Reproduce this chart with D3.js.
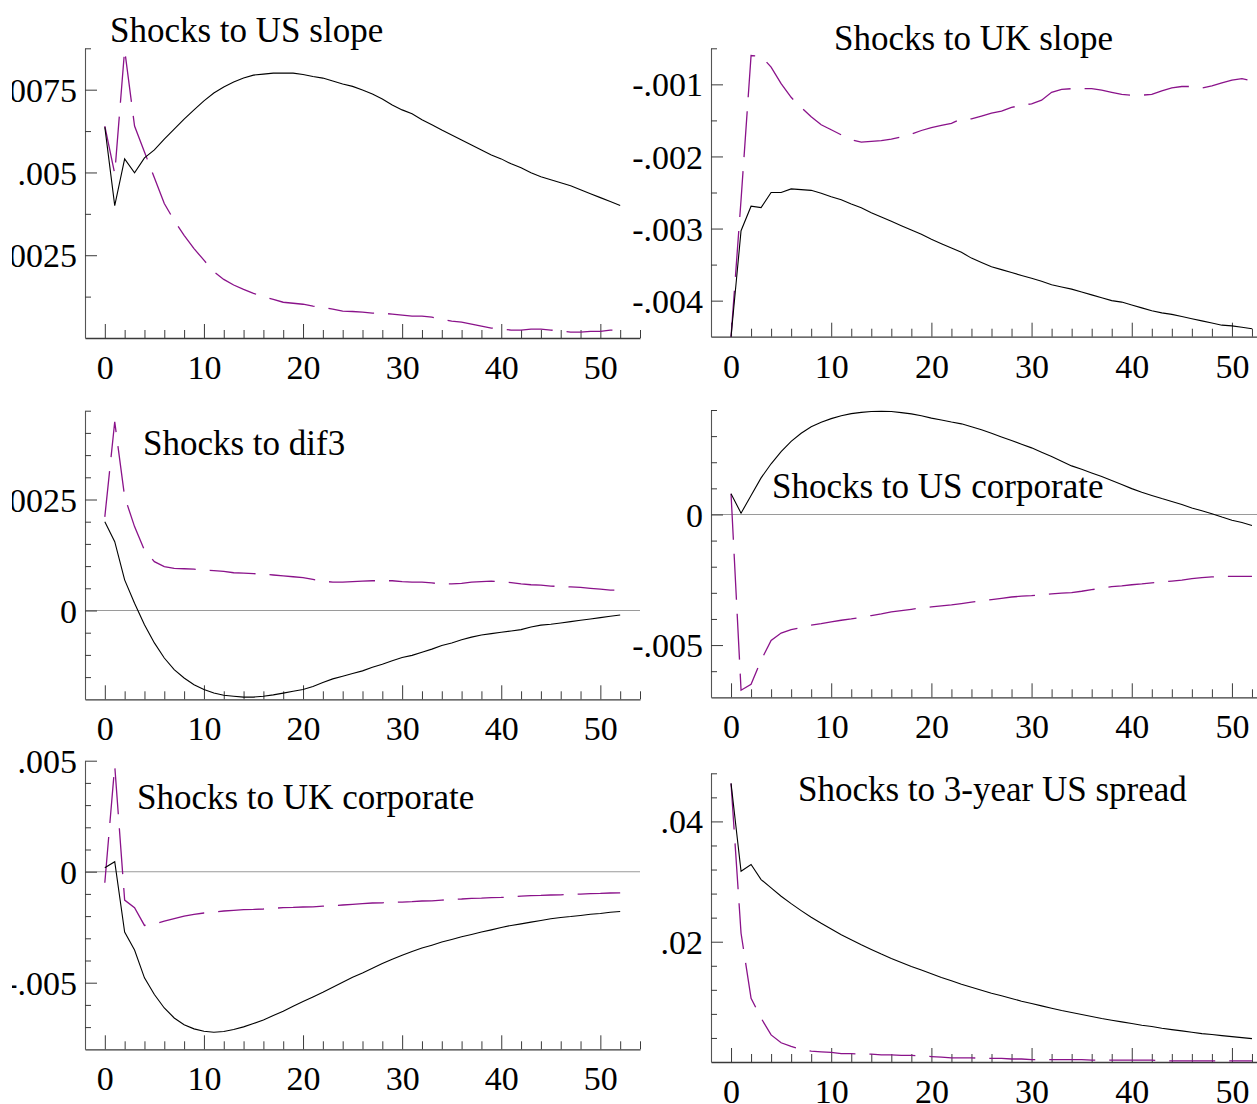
<!DOCTYPE html>
<html><head><meta charset="utf-8">
<script src="https://cdn.jsdelivr.net/npm/d3@7"></script>
<style>
body{margin:0;background:#fff}
svg{display:block;background:#fff}
text{font-family:"Liberation Serif","Times New Roman",serif}
</style>
</head><body>
<svg id="chart" width="1257" height="1104"></svg>
<script>
// ---------- DATA ----------
const horizons = [0,1,2,3,4,5,6,7,8,9,10,11,12,13,14,15,16,17,18,19,20,21,22,23,24,25,26,27,28,29,30,31,32,33,34,35,36,37,38,39,40,41,42,43,44,45,46,47,48,49,50,51,52];
const xTickValues = [0,10,20,30,40,50];
const xTickLabels = ["0","10","20","30","40","50"];

const titles = ["Shocks to US slope","Shocks to UK slope","Shocks to dif3","Shocks to US corporate","Shocks to UK corporate","Shocks to 3-year US spread"];

const usSlopeSolid = [0.00637,0.0040,0.00541,0.00499,0.00544,0.00568,0.00601,0.00631,0.00661,0.00689,
0.00716,0.00740,0.00758,0.00773,0.00785,0.00794,0.00797,0.00800,0.00800,0.00800,
0.00796,0.00790,0.00785,0.00776,0.00767,0.00760,0.00749,0.00737,0.00722,0.00704,
0.00689,0.00677,0.00659,0.00644,0.00628,0.00613,0.00598,0.00583,0.00568,0.00553,
0.00541,0.00526,0.00514,0.00499,0.00487,0.00478,0.00469,0.00460,0.00448,0.00436,
0.00424,0.00412,0.00400];
const usSlopeDashed = [0.0064,0.00496,0.00871,0.0064,0.00562,0.00484,0.00406,0.00355,0.0031,0.0027,
0.00235,0.0020,0.00177,0.0016,0.00147,0.00135,0.00124,0.00117,0.00108,0.00105,
0.00102,0.00096,0.00093,0.00087,0.00081,0.0008,0.00078,0.00075,0.00075,0.00072,
0.00069,0.00066,0.00066,0.00063,0.00057,0.00051,0.00048,0.00042,0.00036,0.0003,
0.00027,0.00024,0.00024,0.00027,0.00027,0.00024,0.00021,0.00018,0.00018,0.0002,
0.0002,0.00024,0.00024];

const ukSlopeSolid = [-0.0045,-0.00303,-0.00269,-0.00271,-0.0025,-0.0025,-0.00245,-0.00246,-0.00247,-0.00251,
-0.00256,-0.0026,-0.00266,-0.00271,-0.00278,-0.00284,-0.0029,-0.00296,-0.00302,-0.00308,
-0.00315,-0.00321,-0.00327,-0.00333,-0.00341,-0.00347,-0.00353,-0.00357,-0.00361,-0.00365,
-0.00369,-0.00373,-0.00378,-0.00381,-0.00384,-0.00388,-0.00392,-0.00396,-0.004,-0.00402,
-0.00406,-0.0041,-0.00414,-0.00417,-0.00419,-0.00422,-0.00425,-0.00428,-0.00431,-0.00434,
-0.00435,-0.00437,-0.00439];
const ukSlopeDashed = [-0.0045,-0.0026,-0.0006,-0.00061,-0.00076,-0.00099,-0.00118,-0.00132,-0.00145,-0.00156,
-0.00163,-0.0017,-0.00177,-0.0018,-0.00179,-0.00178,-0.00176,-0.00173,-0.00169,-0.00164,
-0.0016,-0.00157,-0.00154,-0.00148,-0.00148,-0.00144,-0.0014,-0.00137,-0.00132,-0.00129,
-0.00127,-0.00122,-0.00111,-0.00107,-0.00106,-0.00106,-0.00106,-0.00108,-0.00111,-0.00114,
-0.00115,-0.00115,-0.00114,-0.00109,-0.00105,-0.00103,-0.00103,-0.00105,-0.00102,-0.00098,
-0.00094,-0.00092,-0.00095];

const dif3Solid = [0.002,0.00155,0.00069,0.000165,-0.00032,-0.00073,-0.00107,-0.00133,-0.00152,-0.00167,
-0.00178,-0.00186,-0.00191,-0.00193,-0.00195,-0.00195,-0.00193,-0.0019,-0.00186,-0.00182,
-0.00178,-0.00171,-0.00162,-0.00154,-0.00148,-0.00142,-0.00136,-0.00128,-0.00121,-0.00113,
-0.00106,-0.00101,-0.00094,-0.00087,-0.00079,-0.00073,-0.00066,-0.0006,-0.00055,-0.00052,
-0.00049,-0.00046,-0.00043,-0.00037,-0.00033,-0.00031,-0.00028,-0.00025,-0.00022,-0.00019,
-0.00016,-0.00013,-0.0001];
const dif3Dashed = [0.00211,0.00425,0.00256,0.00189,0.00136,0.0011,0.00099,0.00095,0.00094,0.00093,
0.00091,0.0009,0.00088,0.00085,0.00084,0.00083,0.00082,0.0008,0.00078,0.00076,
0.00074,0.0007,0.00066,0.00064,0.00064,0.00065,0.00066,0.00067,0.00067,0.00067,
0.00065,0.00064,0.00064,0.00062,0.0006,0.0006,0.00061,0.00064,0.00065,0.00066,
0.00065,0.00063,0.0006,0.00058,0.00057,0.00055,0.00054,0.00053,0.00052,0.0005,
0.00048,0.00046,0.00046];

const usCorpSolid = [0.00079,0.00005,0.00073,0.0014,0.00194,0.00241,0.0028,0.00311,0.00336,0.00353,
0.00367,0.00378,0.00386,0.00391,0.00394,0.00395,0.00394,0.0039,0.00385,0.00378,
0.00369,0.00362,0.00354,0.00347,0.00336,0.00324,0.00311,0.00297,0.00283,0.00269,
0.00255,0.00238,0.00222,0.00204,0.00186,0.00173,0.00159,0.00145,0.0013,0.00115,
0.00099,0.00085,0.00073,0.00061,0.0005,0.00038,0.00025,0.00014,0.00003,-0.0001,
-0.00022,-0.00031,-0.00042];
const usCorpDashed = [0.00079,-0.00673,-0.0065,-0.00558,-0.00482,-0.00454,-0.00441,-0.00433,-0.00424,-0.00418,
-0.00411,-0.00405,-0.004,-0.00394,-0.00387,-0.00381,-0.00373,-0.00368,-0.00363,-0.00358,
-0.00354,-0.0035,-0.00346,-0.00341,-0.00336,-0.00331,-0.00326,-0.00321,-0.00316,-0.00313,
-0.00311,-0.00308,-0.00304,-0.00301,-0.00299,-0.00294,-0.00288,-0.00282,-0.00276,-0.00273,
-0.00269,-0.00266,-0.00262,-0.00259,-0.00255,-0.00251,-0.00246,-0.00242,-0.00239,-0.00237,
-0.00237,-0.00237,-0.00237];

const ukCorpSolid = [0.00018,0.00045,-0.00272,-0.00353,-0.00478,-0.00553,-0.00614,-0.00659,-0.00689,-0.00708,
-0.00719,-0.00723,-0.0072,-0.00711,-0.00699,-0.00684,-0.00668,-0.00648,-0.00629,-0.00606,
-0.00585,-0.00564,-0.00543,-0.0052,-0.00498,-0.00475,-0.00456,-0.00435,-0.00414,-0.00394,
-0.00376,-0.00359,-0.00344,-0.00331,-0.00317,-0.00305,-0.00293,-0.00283,-0.00272,-0.00262,
-0.00251,-0.00242,-0.00235,-0.00227,-0.0022,-0.00212,-0.00206,-0.00202,-0.00197,-0.00192,
-0.00188,-0.00183,-0.00179];
const ukCorpDashed = [-0.0005,0.00477,-0.00128,-0.00162,-0.00242,-0.00235,-0.00223,-0.00211,-0.002,-0.00192,
-0.00186,-0.00182,-0.00177,-0.00174,-0.00171,-0.0017,-0.00168,-0.00165,-0.00162,-0.00161,
-0.00159,-0.00158,-0.00155,-0.00153,-0.0015,-0.00147,-0.00144,-0.00141,-0.0014,-0.00138,
-0.00137,-0.00135,-0.00132,-0.00131,-0.00128,-0.00125,-0.00123,-0.0012,-0.00119,-0.00117,
-0.00116,-0.00113,-0.0011,-0.00108,-0.00107,-0.00105,-0.00104,-0.00102,-0.00101,-0.00099,
-0.00098,-0.00096,-0.00095];

const spreadSolid = [0.04633,0.03172,0.03283,0.03033,0.02894,0.02756,0.02633,0.02517,0.02406,0.02306,
0.02211,0.02117,0.02033,0.0195,0.01872,0.01794,0.01722,0.01656,0.01589,0.01528,
0.01467,0.01406,0.0135,0.01294,0.01244,0.01194,0.01144,0.011,0.01056,0.01011,
0.00972,0.00933,0.00894,0.00856,0.00822,0.00789,0.00756,0.00722,0.00694,0.00667,
0.00639,0.00611,0.00589,0.00561,0.00539,0.00517,0.00494,0.00472,0.00456,0.00439,
0.00422,0.00406,0.00389];
const spreadDashed = [0.0463,0.0214,0.0106,0.0073,0.0045,0.0032,0.0026,0.0021,0.0018,0.0017,
0.0016,0.0014,0.0014,0.0013,0.0013,0.0012,0.0012,0.0011,0.0011,0.0010,
0.0009,0.0008,0.0007,0.0007,0.0007,0.0006,0.0006,0.0006,0.0005,0.0005,
0.0004,0.0004,0.0004,0.0004,0.0004,0.0004,0.0003,0.0003,0.0003,0.0003,
0.0003,0.0003,0.0003,0.0002,0.0002,0.0002,0.0002,0.0002,0.0002,0.0002,
0.0002,0.0002,0.0002];

// y tick values and labels per panel
const usSlopeYTicks = [0.0025,0.005,0.0075];
const usSlopeYLabels = [".0025",".005",".0075"];
const ukSlopeYTicks = [-0.004,-0.003,-0.002,-0.001];
const ukSlopeYLabels = ["-.004","-.003","-.002","-.001"];
const dif3YTicks = [0,0.0025];
const dif3YLabels = ["0",".0025"];
const usCorpYTicks = [-0.005,0];
const usCorpYLabels = ["-.005","0"];
const ukCorpYTicks = [-0.005,0,0.005];
const ukCorpYLabels = ["-.005","0",".005"];
const spreadYTicks = [0.02,0.04];
const spreadYLabels = [".02",".04"];

// ---------- LAYOUT ----------
const LEFT = {x0:85, x1:640, clipX:12};
const RIGHT = {x0:711, x1:1272, clipX:0};
const panels = [
  {col:LEFT,  title:titles[0], tx:110, ty:42,  dom:[0,0.00875],     yr:[338,48.3],   minor:0.00125, solid:usSlopeSolid, dashed:usSlopeDashed, yt:usSlopeYTicks, yl:usSlopeYLabels, zero:false},
  {col:RIGHT, title:titles[1], tx:834, ty:50,  dom:[-0.0045,-0.0005],yr:[336.7,48.3], minor:0.0005,  solid:ukSlopeSolid, dashed:ukSlopeDashed, yt:ukSlopeYTicks, yl:ukSlopeYLabels, zero:false},
  {col:LEFT,  title:titles[2], tx:143, ty:455, dom:[-0.002,0.0045],  yr:[699.3,410.7],minor:0.0005,  solid:dif3Solid,    dashed:dif3Dashed,    yt:dif3YTicks,    yl:dif3YLabels,    zero:true},
  {col:RIGHT, title:titles[3], tx:772, ty:498, dom:[-0.007,0.004],   yr:[697.3,410],  minor:0.001,   solid:usCorpSolid,  dashed:usCorpDashed,  yt:usCorpYTicks,  yl:usCorpYLabels,  zero:true},
  {col:LEFT,  title:titles[4], tx:137, ty:809, dom:[-0.008,0.005],   yr:[1049.3,760.7],minor:0.001,  solid:ukCorpSolid,  dashed:ukCorpDashed,  yt:ukCorpYTicks,  yl:ukCorpYLabels,  zero:true},
  {col:RIGHT, title:titles[5], tx:798, ty:801, dom:[0,0.048],        yr:[1062,773.3], minor:0.004,   solid:spreadSolid,  dashed:spreadDashed,  yt:spreadYTicks,  yl:spreadYLabels,  zero:false}
];

const svg = d3.select("#chart");
svg.append("defs").append("clipPath").attr("id","leftclip")
  .append("rect").attr("x",12).attr("y",0).attr("width",700).attr("height",1104);

const FONT = 34, AXIS = "#3a3a3a", PURPLE = "#8a128a";

panels.forEach((p,i) => {
  const g = svg.append("g");
  if (p.col === LEFT) g.attr("clip-path","url(#leftclip)");
  const x = d3.scaleLinear().domain([-2,54]).range([p.col.x0, p.col.x1]);
  const y = d3.scaleLinear().domain(p.dom).range(p.yr);
  const yBottom = p.yr[0];

  // zero line
  if (p.zero) {
    g.append("line").attr("x1",p.col.x0).attr("x2",Math.min(p.col.x1,1257))
      .attr("y1",y(0)).attr("y2",y(0)).attr("stroke","#9a9a9a").attr("stroke-width",1.1);
  }

  // x axis minor ticks
  const xMinor = d3.range(0,55,2).filter(v => v % 10 !== 0);
  g.append("g").attr("transform",`translate(0,${yBottom})`)
    .call(d3.axisBottom(x).tickValues(xMinor).tickSizeInner(-8).tickSizeOuter(0).tickFormat(""))
    .call(a => { a.select(".domain").attr("stroke",AXIS).attr("stroke-width",1.3); a.selectAll(".tick line").attr("stroke",AXIS); });
  // x axis major
  g.append("g").attr("transform",`translate(0,${yBottom})`)
    .call(d3.axisBottom(x).tickValues(xTickValues).tickSizeInner(-14).tickSizeOuter(0).tickFormat((d,k)=>xTickLabels[k]))
    .call(a => {
      a.select(".domain").remove();
      a.selectAll(".tick line").attr("stroke",AXIS);
      a.selectAll(".tick text").attr("y",41).attr("dy",null)
        .attr("font-size",FONT).attr("fill","#000").attr("font-family",'"Liberation Serif","Times New Roman",serif');
    });

  // y axis minor ticks
  const yMinor = [];
  const n = Math.round((p.dom[1]-p.dom[0])/p.minor);
  for (let k=1;k<=n;k++) {
    const v = +(p.dom[0]+k*p.minor).toFixed(6);
    if (!p.yt.some(t => Math.abs(t-v) < 1e-9)) yMinor.push(v);
  }
  g.append("g").attr("transform",`translate(${p.col.x0},0)`)
    .call(d3.axisLeft(y).tickValues(yMinor).tickSizeInner(-6).tickSizeOuter(0).tickFormat(""))
    .call(a => { a.select(".domain").attr("stroke","#555").attr("stroke-width",1.1); a.selectAll(".tick line").attr("stroke",AXIS); });
  g.append("g").attr("transform",`translate(${p.col.x0},0)`)
    .call(d3.axisLeft(y).tickValues(p.yt).tickSizeInner(-12).tickSizeOuter(0).tickPadding(8).tickFormat((d,k)=>p.yl[k]))
    .call(a => {
      a.select(".domain").remove();
      a.selectAll(".tick line").attr("stroke",AXIS);
      a.selectAll(".tick text").attr("dy","0.34em")
        .attr("font-size",FONT).attr("fill","#000").attr("font-family",'"Liberation Serif","Times New Roman",serif');
    });

  // lines
  const line = d3.line().x((d,k)=>x(horizons[k])).y(d=>y(d));
  g.append("path").datum(p.dashed).attr("d",line).attr("fill","none")
    .attr("stroke",PURPLE).attr("stroke-width",1.3).attr("stroke-dasharray","46,14");
  g.append("path").datum(p.solid).attr("d",line).attr("fill","none")
    .attr("stroke","#000").attr("stroke-width",1.1);

  // title
  svg.append("text").attr("x",p.tx).attr("y",p.ty).attr("font-size",35).attr("fill","#000").text(p.title);
});
</script>
</body></html>
